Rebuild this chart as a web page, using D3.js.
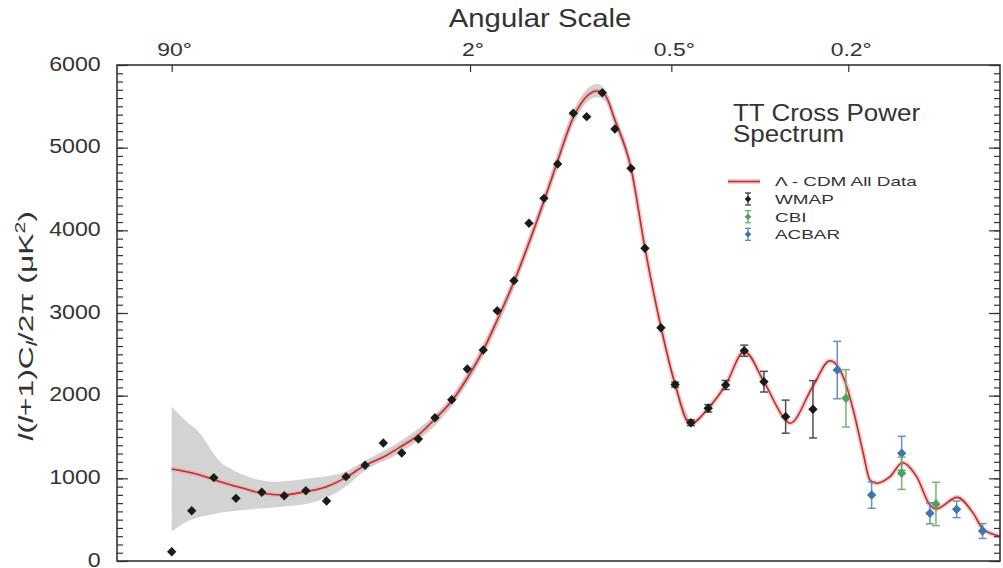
<!DOCTYPE html>
<html>
<head>
<meta charset="utf-8">
<script src="https://cdn.jsdelivr.net/npm/d3@7"></script>
<style>
  html, body { margin: 0; padding: 0; background: #fff; }
  svg { display: block; }
</style>
</head>
<body>
<svg id="chart" width="1003" height="568"></svg>
<script>
// ---- TT power spectrum data, l(l+1)C_l/2π in μK², by multipole l ----

// Lambda-CDM best fit (all data)
const modelL  = [2, 2.72, 3.51, 5.0, 7.29, 9.59, 12.9, 17.1, 22.2, 27.7, 34, 41, 49.1, 57.4, 66.7, 77.2, 88, 100.2, 111.9, 127.2, 142.2, 158.6, 175.1, 194.2, 213.3, 227.7, 239.9, 255.6, 282.6, 307.8, 338.7, 367.8, 400.6, 443.8, 488, 538.9, 596.9, 666.2, 680.6, 760.6, 826.1, 879.3, 921, 964.1, 993.8, 1024.2, 1086.6, 1147.9, 1220.5, 1291.6, 1324.7, 1447.2, 1544.8, 1608.3, 1718];
const modelCl = [1113, 1080, 1040, 959, 879, 819, 798, 838, 899, 1012, 1158, 1258, 1391, 1524, 1718, 1935, 2214, 2552, 2915, 3375, 3847, 4355, 4851, 5359, 5625, 5685, 5637, 5334, 4754, 3786, 2831, 2141, 1657, 1847, 2129, 2535, 2169, 1706, 1666, 2108, 2423, 2229, 1827, 1303, 980, 940, 1020, 1189, 1020, 677, 630, 770, 577, 385, 300];

// Uncertainty band around the model
const bandL  = [2, 2.72, 3.51, 4.2, 5.0, 5.9, 7.29, 11.8, 18.2, 26.9, 34, 49.1, 77.2, 100.2, 127.2, 158.6, 194.2, 213.3, 227.7, 239.9, 255.6, 282.6, 307.8, 338.7, 367.8, 400.6];
const bandLo = [356, 475, 536, 560, 584, 600, 617, 649, 698, 880, 1095, 1320, 1870, 2480, 3300, 4280, 5280, 5550, 5610, 5565, 5265, 4690, 3730, 2780, 2095, 1615];
const bandHi = [1866, 1685, 1545, 1363, 1201, 1121, 1040, 959, 1000, 1070, 1215, 1460, 2000, 2625, 3450, 4430, 5440, 5710, 5770, 5710, 5400, 4820, 3845, 2880, 2185, 1700];

// WMAP
const wmapL   = [2, 3, 4.5, 6.5, 9.6, 13.1, 17.3, 22.2, 27.7, 34, 41, 49.1, 57.4, 66.7, 77.2, 88, 100.2, 111.9, 127.2, 142.3, 158.6, 174.7, 194.5, 212.8, 235.7, 255.6, 282.6, 307.8, 338.7, 368, 402.9, 443.8, 488, 538.9, 596.9, 666.2, 761.7];
const wmapCl  = [112, 608, 1008, 758, 831, 790, 850, 726, 1020, 1158, 1427, 1306, 1476, 1733, 1951, 2323, 2552, 3028, 3391, 4085, 4387, 4802, 5416, 5375, 5665, 5226, 4750, 3783, 2822, 2134, 1673, 1847, 2129, 2544, 2169, 1746, 1835];
const wmapErr = [0, 0, 0, 0, 0, 0, 0, 0, 0, 0, 0, 0, 0, 0, 0, 0, 0, 0, 0, 0, 0, 0, 0, 0, 0, 0, 0, 0, 0, 30, 35, 45, 55, 67, 125, 200, 347];

// CBI
const cbiL   = [890.4, 1143.9, 1324.8];
const cbiCl  = [1968, 1061, 690];
const cbiErr = [347, 195, 262];

// ACBAR
const acbarL   = [855, 1001.4, 1143.9, 1291.6, 1443.7, 1604];
const acbarCl  = [2310, 798, 1303, 577, 625, 363];
const acbarErr = [347, 160, 205, 127, 100, 90];

// Axis ticks
const yTicks = [0, 1000, 2000, 3000, 4000, 5000, 6000];
const angleTicksL = [2, 90, 360, 900];
const angleLabels = ["90°", "2°", "0.5°", "0.2°"];

// ---- layout ----
const frame = { left: 117, right: 1000, top: 65, bottom: 561 };
const FONT = "'Liberation Sans', Arial, Helvetica, sans-serif";
const INK = "#333";

const x = d3.scalePow().exponent(0.25).domain([0.504, 1719]).range([frame.left, frame.right]);
const y = d3.scaleLinear().domain([0, 6000]).range([frame.bottom, frame.top]);

const svg = d3.select("#chart");

svg.append("defs").append("clipPath").attr("id", "plot-clip")
  .append("rect")
  .attr("x", frame.left).attr("y", frame.top)
  .attr("width", frame.right - frame.left).attr("height", frame.bottom - frame.top);

const plot = svg.append("g").attr("clip-path", "url(#plot-clip)");

// band
const bandData = bandL.map((l, i) => ({ l, lo: bandLo[i], hi: bandHi[i] }));
plot.append("path")
  .datum(bandData)
  .attr("d", d3.area().x(d => x(d.l)).y0(d => y(d.lo)).y1(d => y(d.hi)).curve(d3.curveMonotoneX))
  .attr("fill", "#d3d3d3");

// model curve: soft halo + line
const modelData = modelL.map((l, i) => ({ l, v: modelCl[i] }));
const modelLine = d3.line().x(d => x(d.l)).y(d => y(d.v)).curve(d3.curveMonotoneX);
plot.append("path").datum(modelData).attr("d", modelLine)
  .attr("fill", "none").attr("stroke", "#eba7a7").attr("stroke-width", 5).attr("stroke-opacity", 0.55);
plot.append("path").datum(modelData).attr("d", modelLine)
  .attr("fill", "none").attr("stroke", "#b9302e").attr("stroke-width", 1.6);

// data series
const diamond = {
  draw(ctx, size) {
    const r = Math.sqrt(size / 2);
    ctx.moveTo(0, -r); ctx.lineTo(r, 0); ctx.lineTo(0, r); ctx.lineTo(-r, 0); ctx.closePath();
  }
};
const series = [
  { name: "WMAP",  L: wmapL,  Cl: wmapCl,  err: wmapErr,  color: "#1b1b1b", bar: "#3d3d3d" },
  { name: "ACBAR", L: acbarL, Cl: acbarCl, err: acbarErr, color: "#3f74ad", bar: "#5a86b8" },
  { name: "CBI",   L: cbiL,   Cl: cbiCl,   err: cbiErr,   color: "#4fa257", bar: "#66ad6a" }
];

series.forEach(s => {
  const pts = s.L.map((l, i) => ({ l, v: s.Cl[i], e: s.err[i] }));
  const g = plot.append("g").attr("class", "series-" + s.name);
  const withErr = pts.filter(d => d.e > 0);
  const bars = g.selectAll("g.err").data(withErr).join("g").attr("class", "err")
    .attr("stroke", s.bar).attr("stroke-width", 1.5).attr("opacity", 0.9);
  bars.append("line")
    .attr("x1", d => x(d.l)).attr("x2", d => x(d.l))
    .attr("y1", d => y(d.v - d.e)).attr("y2", d => y(d.v + d.e));
  bars.append("line")
    .attr("x1", d => x(d.l) - 4).attr("x2", d => x(d.l) + 4)
    .attr("y1", d => y(d.v + d.e)).attr("y2", d => y(d.v + d.e));
  bars.append("line")
    .attr("x1", d => x(d.l) - 4).attr("x2", d => x(d.l) + 4)
    .attr("y1", d => y(d.v - d.e)).attr("y2", d => y(d.v - d.e));
  g.selectAll("path.pt").data(pts).join("path").attr("class", "pt")
    .attr("d", d3.symbol(diamond, 44))
    .attr("transform", d => `translate(${x(d.l)},${y(d.v)})`)
    .attr("fill", s.color);
});

// ---- axes ----
function styleTicks(g) {
  g.select(".domain").remove();
  g.selectAll(".tick line").attr("stroke", INK).attr("stroke-width", 1.2);
}

// left: minor every 100, major every 1000 with labels
svg.append("g").attr("transform", `translate(${frame.left},0)`)
  .call(d3.axisLeft(y).tickValues(y.ticks(60)).tickSizeInner(-6).tickSizeOuter(0).tickFormat(""))
  .call(styleTicks);
svg.append("g").attr("transform", `translate(${frame.left},0)`)
  .call(d3.axisLeft(y).tickValues(yTicks).tickSizeInner(-11).tickSizeOuter(0).tickPadding(14).tickFormat(d3.format("d")))
  .call(styleTicks)
  .call(g => g.selectAll("text")
    .attr("font-family", FONT).attr("font-size", 20).attr("fill", INK)
    .attr("dy", "0.26em")
    .attr("transform", "scale(1.16,1)"));

// right: same ticks, no labels
svg.append("g").attr("transform", `translate(${frame.right},0)`)
  .call(d3.axisRight(y).tickValues(y.ticks(60)).tickSizeInner(-6).tickSizeOuter(0).tickFormat(""))
  .call(styleTicks);
svg.append("g").attr("transform", `translate(${frame.right},0)`)
  .call(d3.axisRight(y).tickValues(yTicks).tickSizeInner(-11).tickSizeOuter(0).tickFormat(""))
  .call(styleTicks);

// top: angular scale
svg.append("g").attr("transform", `translate(0,${frame.top})`)
  .call(d3.axisTop(x).tickValues(angleTicksL).tickFormat((d, i) => angleLabels[i])
    .tickSizeInner(-7).tickSizeOuter(0).tickPadding(9))
  .call(styleTicks)
  .call(g => g.selectAll("text")
    .attr("font-family", FONT).attr("font-size", 18.5).attr("fill", INK)
    .attr("dx", 2).attr("transform", "scale(1.24,1)"));

// frame
svg.append("rect")
  .attr("x", frame.left).attr("y", frame.top)
  .attr("width", frame.right - frame.left).attr("height", frame.bottom - frame.top)
  .attr("fill", "none").attr("stroke", INK).attr("stroke-width", 1.6);

// axis titles
svg.append("text")
  .attr("transform", "translate(540,26.7) scale(1.15,1)")
  .attr("text-anchor", "middle")
  .attr("font-family", FONT).attr("font-size", 25.5).attr("fill", INK)
  .text("Angular Scale");

const yTitle = svg.append("text")
  .attr("text-anchor", "middle")
  .attr("font-family", FONT).attr("font-size", 21).attr("fill", INK);
yTitle.append("tspan").attr("font-style", "italic").text("l");
yTitle.append("tspan").text("(");
yTitle.append("tspan").attr("font-style", "italic").text("l");
yTitle.append("tspan").text("+1)C");
yTitle.append("tspan").attr("font-style", "italic").attr("font-size", 15).attr("dy", 4).text("l");
yTitle.append("tspan").attr("dy", -4).text("/2π (μK");
yTitle.append("tspan").attr("font-size", 14).attr("dy", -8).text("2");
yTitle.append("tspan").attr("dy", 8).text(")");
const yTitleLen = yTitle.node().getComputedTextLength();
yTitle.attr("transform", `translate(33,326) rotate(-90) scale(${230 / yTitleLen},1)`);

// ---- legend ----
const legend = svg.append("g").attr("font-family", FONT).attr("fill", INK);
legend.append("text").attr("transform", "translate(733,121) scale(1.06,1)").attr("font-size", 24.5).text("TT Cross Power");
legend.append("text").attr("transform", "translate(733,142) scale(1.06,1)").attr("font-size", 24.5).text("Spectrum");

legend.append("line").attr("x1", 728).attr("x2", 760).attr("y1", 181.5).attr("y2", 181.5)
  .attr("stroke", "#eba7a7").attr("stroke-width", 5).attr("stroke-opacity", 0.55);
legend.append("line").attr("x1", 728).attr("x2", 760).attr("y1", 181.5).attr("y2", 181.5)
  .attr("stroke", "#b9302e").attr("stroke-width", 1.6);

const legendRows = [
  { label: "Λ - CDM All Data", base: 186 },
  { label: "WMAP",  base: 204,   s: series[0] },
  { label: "CBI",   base: 221.7, s: series[2] },
  { label: "ACBAR", base: 239.3, s: series[1] }
];
legendRows.forEach(r => {
  legend.append("text")
    .attr("transform", `translate(775,${r.base}) scale(1.4,1)`)
    .attr("font-size", 13.5).text(r.label);
  if (r.s) {
    const cy = r.base - 5, cx = 748;
    const g = legend.append("g").attr("stroke", r.s.bar).attr("stroke-width", 1.3);
    g.append("line").attr("x1", cx).attr("x2", cx).attr("y1", cy - 6).attr("y2", cy + 6);
    g.append("line").attr("x1", cx - 3).attr("x2", cx + 3).attr("y1", cy - 6).attr("y2", cy - 6);
    g.append("line").attr("x1", cx - 3).attr("x2", cx + 3).attr("y1", cy + 6).attr("y2", cy + 6);
    legend.append("path").attr("d", d3.symbol(diamond, 22))
      .attr("transform", `translate(${cx},${cy})`).attr("fill", r.s.color);
  }
});
</script>
</body>
</html>
